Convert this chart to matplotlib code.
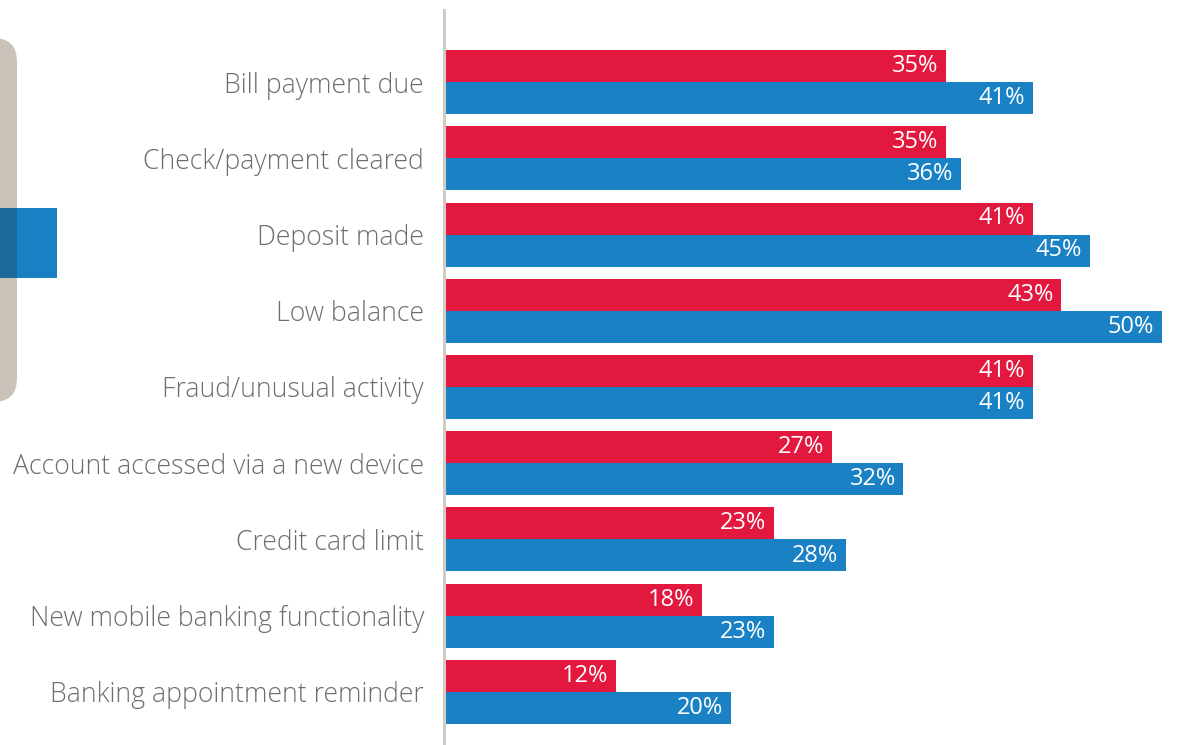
import matplotlib
matplotlib.use("Agg")
import matplotlib.pyplot as plt
from matplotlib.patches import FancyBboxPatch, Rectangle
import numpy as np

categories = [
    "Bill payment due",
    "Check/payment cleared",
    "Deposit made",
    "Low balance",
    "Fraud/unusual activity",
    "Account accessed via a new device",
    "Credit card limit",
    "New mobile banking functionality",
    "Banking appointment reminder",
]
series_red = [35, 35, 41, 43, 41, 27, 23, 18, 12]
series_blue = [41, 36, 45, 50, 41, 32, 28, 23, 20]

RED = "#e3183f"
BLUE = "#1a82c4"
GRAY_TXT = "#6e6e6e"
LINE = "#d3cbc1"

W, H = 1179, 745
fig = plt.figure(figsize=(W / 100, H / 100), dpi=100)

# background decorations (figure pixel coords)
deco = FancyBboxPatch((-40 / W, 1 - 402 / H), 57 / W, 364 / H,
                      boxstyle="round,pad=0,rounding_size=0.02",
                      transform=fig.transFigure, facecolor="#cbc2b9",
                      edgecolor="none", mutation_aspect=W / H)
fig.patches.append(deco)
fig.patches.append(Rectangle((0, 1 - 278 / H), 57 / W, 70 / H,
                             transform=fig.transFigure, facecolor="#1a80c4",
                             edgecolor="none"))
fig.patches.append(Rectangle((0, 1 - 278 / H), 17 / W, 70 / H,
                             transform=fig.transFigure, facecolor="#1b6a9a",
                             edgecolor="none"))

ax = fig.add_axes([444 / W, 0, 1 - 444 / W, 735 / H])
ax.set_facecolor("none")

step = 76.25
y = np.arange(len(categories))
h = 32 / step
ax.barh(y - h / 2, series_red, height=h, color=RED, align="center")
ax.barh(y + h / 2, series_blue, height=h, color=BLUE, align="center")

ax.set_xlim(0, 51.2)
ax.set_ylim((745 - 82) / step, (10 - 82) / step)

for i, (r, b) in enumerate(zip(series_red, series_blue)):
    ax.annotate(f"{r}%", (r, i - h / 2), xytext=(-5.5, 0), textcoords="offset points",
                ha="right", va="center", color="white", fontsize=17,
                family="Open Sans")
    ax.annotate(f"{b}%", (b, i + h / 2), xytext=(-5.5, 0), textcoords="offset points",
                ha="right", va="center", color="white", fontsize=17,
                family="Open Sans")

ax.set_yticks(y)
ax.set_yticklabels(categories, fontsize=19.2, color=GRAY_TXT, family="Open Sans",
                   fontweight="light")
ax.tick_params(axis="y", length=0, pad=14.4)
ax.set_xticks([])
for s in ["top", "right", "bottom"]:
    ax.spines[s].set_visible(False)
ax.spines["left"].set_color(LINE)
ax.spines["left"].set_linewidth(2.2)

fig.savefig("out.png", dpi=100)
